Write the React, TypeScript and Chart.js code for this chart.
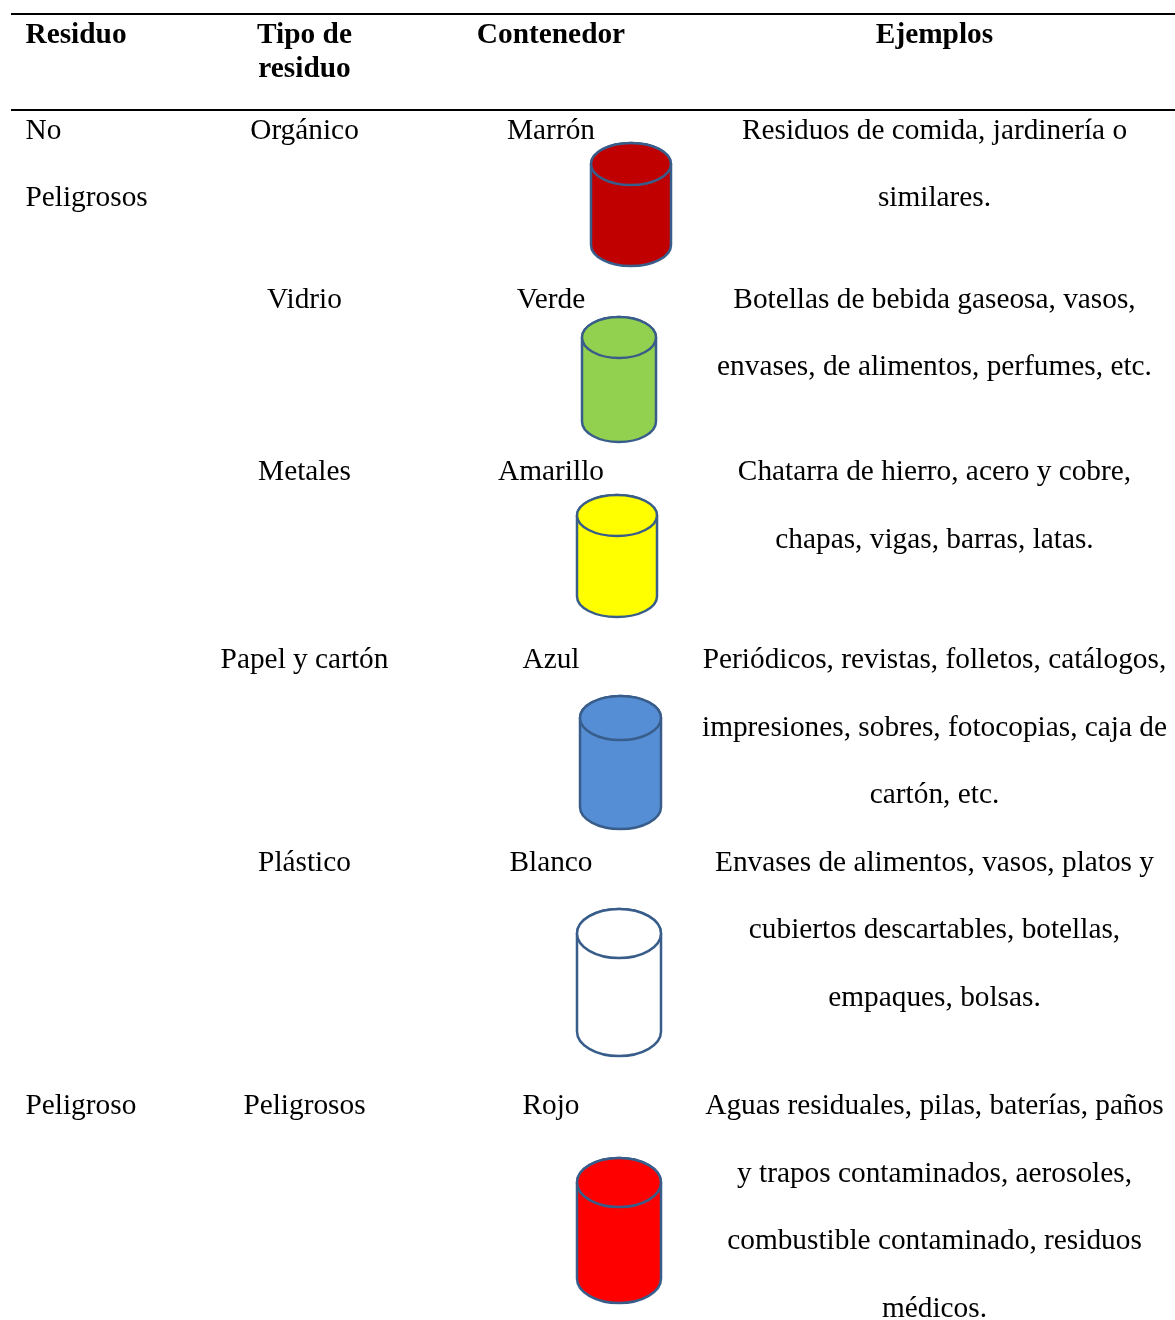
import React, { useEffect, useRef } from "react";
import { Chart, registerables } from "chart.js";

Chart.register(...registerables);

const WIDTH = 1175;
const HEIGHT = 1320;

// Table content
const headerLabels = ["Residuo", "Tipo de", "residuo", "Contenedor", "Ejemplos"];
const residuoLabels = ["No", "Peligrosos", "Peligroso"];
const tipoLabels = ["Orgánico", "Vidrio", "Metales", "Papel y cartón", "Plástico", "Peligrosos"];
const contenedorLabels = ["Marrón", "Verde", "Amarillo", "Azul", "Blanco", "Rojo"];
const ejemploLabels = [
  "Residuos de comida, jardinería o",
  "similares.",
  "Botellas de bebida gaseosa, vasos,",
  "envases, de alimentos, perfumes, etc.",
  "Chatarra de hierro, acero y cobre,",
  "chapas, vigas, barras, latas.",
  "Periódicos, revistas, folletos, catálogos,",
  "impresiones, sobres, fotocopias, caja de",
  "cartón, etc.",
  "Envases de alimentos, vasos, platos y",
  "cubiertos descartables, botellas,",
  "empaques, bolsas.",
  "Aguas residuales, pilas, baterías, paños",
  "y trapos contaminados, aerosoles,",
  "combustible contaminado, residuos",
  "médicos.",
];

// Row positions on the sheet's y scale (text baselines)
const headerRows = [43, 43, 77, 43, 43];
const headerColumns = [25.5, 304.5, 304.5, 551, 934.5];
const residuoRows = [139, 206, 1114];
const rowBaselines = [139, 308, 480, 668, 871, 1114];
const ejemploRows = [139, 206, 308, 375, 480, 548, 668, 736, 803, 871, 938, 1006, 1114, 1182, 1249, 1317];

// Containers
const binCentersX = [631, 619, 617, 620.5, 619, 619];
const binCentersY = [204.5, 379.5, 556, 762.5, 982.5, 1230.5];
const binWidths = [80, 74, 80, 81, 84, 84];
const binHeights = [123, 125, 122, 133, 147, 145];
const binCaps = [42, 41, 41, 44, 49, 49];
const binColors = ["#C00000", "#92D050", "#FFFF00", "#558ED5", "#FFFFFF", "#FF0000"];
const binStroke = "#385D8A";

const ruleRows = [14, 110];
const ruleStart = 11;

function makeBin(w: number, h: number, cap: number, fill: string) {
  const pad = 3;
  const c = document.createElement("canvas");
  c.width = w + pad * 2;
  c.height = h + pad * 2;
  const g = c.getContext("2d")!;
  const cx = pad + w / 2;
  const ry = cap / 2;
  g.lineWidth = 2.5;
  g.strokeStyle = binStroke;
  g.fillStyle = fill;
  g.beginPath();
  g.moveTo(pad, pad + ry);
  g.lineTo(pad, pad + h - ry);
  g.ellipse(cx, pad + h - ry, w / 2, ry, 0, Math.PI, 0, true);
  g.lineTo(pad + w, pad + ry);
  g.ellipse(cx, pad + ry, w / 2, ry, 0, 0, Math.PI, true);
  g.closePath();
  g.fill();
  g.stroke();
  g.beginPath();
  g.ellipse(cx, pad + ry, w / 2, ry, 0, 0, Math.PI * 2);
  g.fill();
  g.stroke();
  return c;
}

const SERIF = '"Liberation Serif", "Times New Roman", serif';
const REGULAR = `29.33px ${SERIF}`;
const BOLD = `bold 29.33px ${SERIF}`;

const tableText = {
  id: "tableText",
  afterDatasetsDraw(chart: any) {
    const { ctx } = chart;
    ctx.save();
    ctx.fillStyle = "#000000";
    ctx.textBaseline = "alphabetic";
    chart.data.datasets.forEach((ds: any, i: number) => {
      if (!ds.texts) return;
      const meta = chart.getDatasetMeta(i);
      ctx.font = ds.bold ? BOLD : REGULAR;
      meta.data.forEach((pt: any, j: number) => {
        const left = ds.leftFirst && j === 0;
        ctx.textAlign = ds.align === "left" || left ? "left" : "center";
        ctx.fillText(ds.texts[j], pt.x, pt.y);
      });
    });
    ctx.restore();
  },
};

function textSet(texts: string[], xs: number[], ys: number[], opts: any = {}) {
  return {
    texts,
    data: texts.map((_, i) => ({ x: xs[i], y: ys[i] })),
    pointRadius: 0,
    showLine: false,
    ...opts,
  };
}

export default function App() {
  const ref = useRef<HTMLCanvasElement>(null);

  useEffect(() => {
    const chart = new Chart(ref.current!, {
      type: "scatter",
      data: {
        datasets: [
          ...ruleRows.map((y) => ({
            data: [
              { x: ruleStart, y },
              { x: WIDTH, y },
            ],
            showLine: true,
            borderColor: "#000000",
            borderWidth: 2,
            pointRadius: 0,
          })),
          {
            data: binCentersX.map((x, i) => ({ x, y: binCentersY[i] })),
            showLine: false,
            pointStyle: binColors.map((color, i) =>
              makeBin(binWidths[i], binHeights[i], binCaps[i], color)
            ),
          },
          textSet(headerLabels, headerColumns, headerRows, { bold: true, leftFirst: true }),
          textSet(residuoLabels, residuoLabels.map(() => 25.5), residuoRows, { align: "left" }),
          textSet(tipoLabels, tipoLabels.map(() => 304.5), rowBaselines),
          textSet(contenedorLabels, contenedorLabels.map(() => 551), rowBaselines),
          textSet(ejemploLabels, ejemploLabels.map(() => 934.5), ejemploRows),
        ] as any,
      },
      options: {
        responsive: false,
        animation: false,
        events: [],
        layout: { padding: 0, autoPadding: false },
        plugins: { legend: { display: false }, tooltip: { enabled: false }, title: { display: false } },
        scales: {
          x: { type: "linear", display: false, min: 0, max: WIDTH },
          y: { type: "linear", display: false, min: 0, max: HEIGHT, reverse: true },
        },
      },
      plugins: [tableText],
    });
    return () => chart.destroy();
  }, []);

  return (
    <div style={{ position: "absolute", left: 0, top: 0, width: WIDTH, height: HEIGHT, background: "#fff" }}>
      <canvas ref={ref} width={WIDTH} height={HEIGHT} style={{ display: "block" }} />
    </div>
  );
}
